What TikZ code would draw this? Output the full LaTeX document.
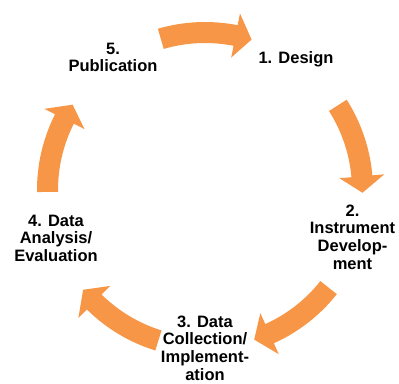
\documentclass[tikz,border=0pt]{standalone}
\usepackage{fontspec}
\setmainfont{Liberation Sans}
\definecolor{arroworange}{HTML}{F79646}
\tikzset{
  lbl/.style={font=\fontsize{16.5}{17.6}\selectfont\bfseries, align=center, anchor=base, inner sep=0pt, text=black},
  cyclearrow/.style={fill=arroworange, draw=none}
}
\newcommand{\cyclearrowat}[1]{%
  \pgfmathsetmacro{\ta}{#1}%
  \pgfmathsetmacro{\hb}{#1-27.5}%
  \pgfmathsetmacro{\tp}{#1-33.5}%
  \fill[cyclearrow] (\ta:168pt) arc[start angle=\ta, end angle=\hb, radius=168pt]
    -- (\hb:180pt) -- (\tp:157.5pt) -- (\hb:135pt) -- (\hb:147pt)
    arc[start angle=\hb, end angle=\ta, radius=147pt] -- cycle;%
}
\begin{document}
\begin{tikzpicture}[x=1pt,y=1pt]
\useasboundingbox (0,-383) rectangle (399,0);
\begin{scope}[shift={(205,-190)}]
  \cyclearrowat{106.3}
  \cyclearrowat{32.5}
  \cyclearrowat{-38.3}
  \cyclearrowat{-107.2}
  \cyclearrowat{180.7}
\end{scope}
\node[lbl] (n1) at (296,-63.3) {1. Design};
\node[lbl] (n2) at (352.5,-269) {2.\\Instrument\\Develop-\\ment};
\node[lbl] (n3) at (205,-380) {3. Data\\Collection/\\Implement-\\ation};
\node[lbl] (n4) at (56,-261.5) {4. Data\\Analysis/\\Evaluation};
\node[lbl] (n5) at (113,-71.7) {5.\\Publication};
\end{tikzpicture}
\end{document}
